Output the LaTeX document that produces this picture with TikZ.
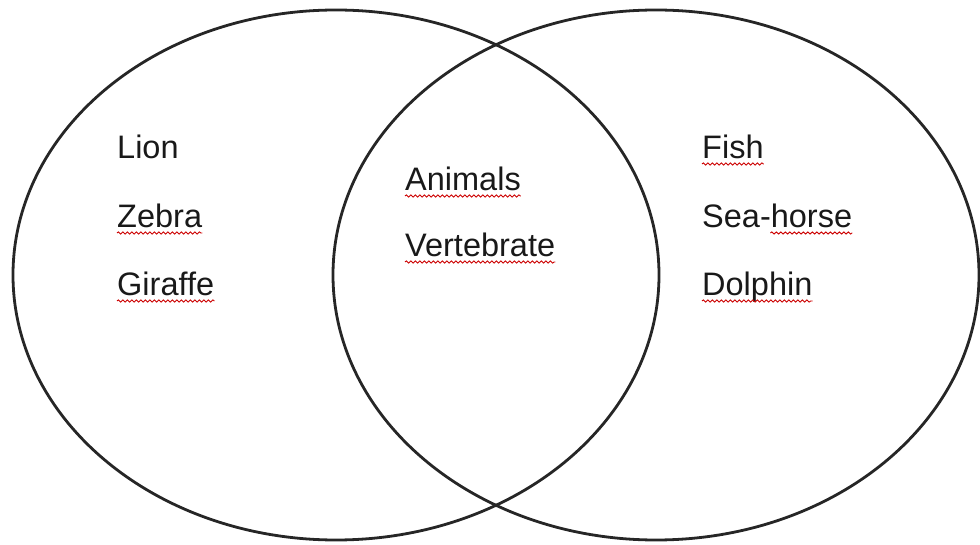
\documentclass[tikz,border=0pt]{standalone}
\usepackage{fontspec}
\setmainfont[Ligatures=NoCommon]{Liberation Sans}
\usetikzlibrary{calc,decorations.pathmorphing}

\begin{document}
\begin{tikzpicture}[x=1pt,y=1pt]
  \def\rx{323pt}
  \def\ry{265pt}
  \tikzset{
    item/.style={anchor=base west,inner sep=0pt,font=\fontsize{32.5}{38}\selectfont,text=black!90},
    spell/.style={draw=red!80!black,line width=0.9pt,decorate,
      decoration={snake,amplitude=1.1pt,segment length=4.5pt}}
  }
  \useasboundingbox (0,0) rectangle (980,544);
  \draw[line width=2.8pt,black!85] (336,269) ellipse[x radius=\rx,y radius=\ry];
  \draw[line width=2.8pt,black!85] (656,269) ellipse[x radius=\rx,y radius=\ry];
  % left set
  \node[item] (lion) at (117,385) {Lion};
  \node[item] (zebra) at (117,316) {Zebra};
  \node[item] (giraffe) at (117,248) {Giraffe};
  % both
  \node[item] (animals) at (405,353) {Animals};
  \node[item] (vertebrate) at (405,287) {Vertebrate};
  % right set
  \node[item] (fish) at (702,385) {Fish};
  \node[item] (seahorse) at (702,316) {Sea-horse};
  \node[item] (dolphin) at (702,248) {Dolphin};
  \foreach \n in {zebra,giraffe,animals,vertebrate,fish,dolphin}
    \draw[spell] ($(\n.base west)+(0,-5)$) -- ($(\n.base east)+(0,-5)$);
  \draw[spell] ($(seahorse.base east)+(-82,-5)$) -- ($(seahorse.base east)+(0,-5)$);
\end{tikzpicture}
\end{document}
